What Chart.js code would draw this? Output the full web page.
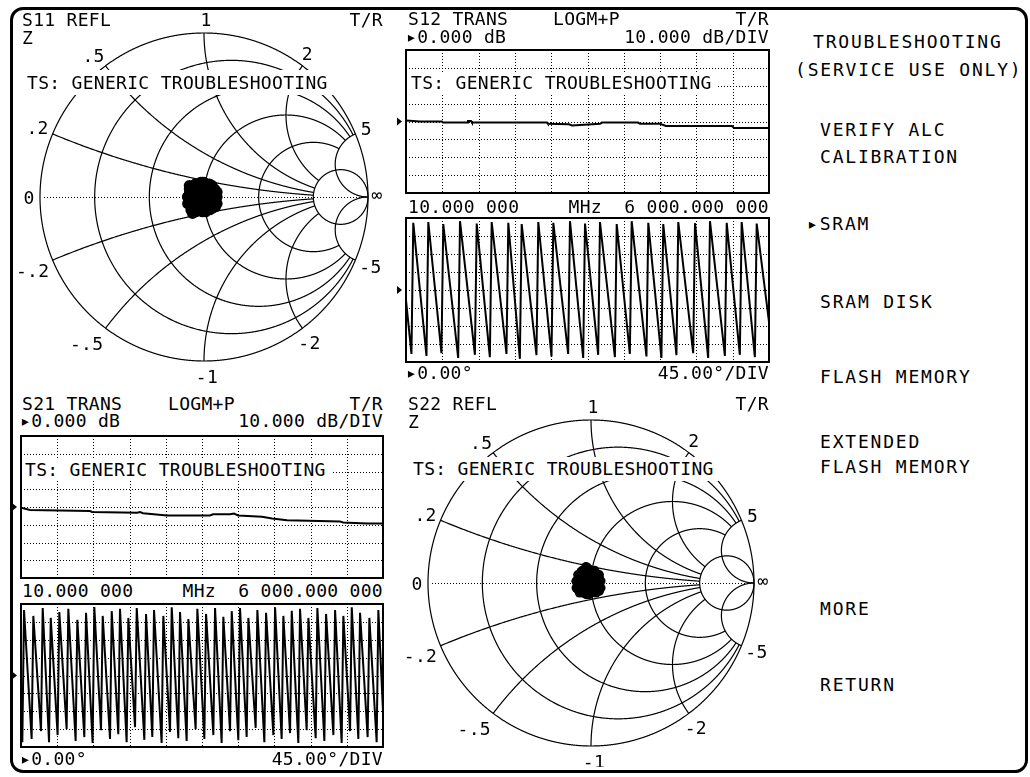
<!DOCTYPE html>
<html><head><meta charset="utf-8">
<script src="https://cdn.jsdelivr.net/npm/chart.js@4.4.1/dist/chart.umd.min.js"></script>
<style>
html,body{margin:0;padding:0;background:#fff;}
#screen{position:relative;width:1030px;height:777px;overflow:hidden;background:#fff;}
#frame{position:absolute;left:10px;top:7px;width:1012px;height:760px;border:3px solid #000;border-radius:13px;}
canvas{position:absolute;}
.t{position:absolute;font-family:"DejaVu Sans Mono",monospace;font-size:18px;line-height:18px;height:18px;letter-spacing:0.3px;color:#000;white-space:pre;}
.m{letter-spacing:1.8px;}
.band{position:absolute;background:#fff;}
</style></head><body><div id="screen">
<div id="frame"></div>
<canvas id="c11" width="382" height="385" style="left:14px;top:8px"></canvas>
<canvas id="c22" width="375" height="372" style="left:400px;top:395px"></canvas>
<canvas id="c12m" width="376" height="147" style="left:395px;top:48px"></canvas>
<canvas id="c12p" width="376" height="148" style="left:395px;top:216px"></canvas>
<canvas id="c21m" width="375" height="146" style="left:10px;top:434px"></canvas>
<canvas id="c21p" width="375" height="147" style="left:10px;top:602px"></canvas>

<!-- S11 -->
<div class="band" style="left:22px;top:70px;width:338px;height:25px"></div>
<div class="t" style="left:22px;top:11px">S11 REFL</div>
<div class="t" style="right:647px;top:11px">T/R</div>
<div class="t" style="left:22px;top:29px">Z</div>
<div class="t" style="left:27px;top:74px">TS: GENERIC TROUBLESHOOTING</div>

<!-- S12 -->
<div class="t" style="left:408px;top:10px">S12 TRANS</div>
<div class="t" style="left:553px;top:10px">LOGM+P</div>
<div class="t" style="right:261px;top:10px">T/R</div>
<div class="t" style="left:406px;top:28px">▸0.000 dB</div>
<div class="t" style="right:261px;top:28px">10.000 dB/DIV</div>
<div class="band" style="left:409px;top:73px;width:309px;height:21px"></div>
<div class="t" style="left:411px;top:74px">TS: GENERIC TROUBLESHOOTING</div>
<div class="t" style="left:408px;top:198px">10.000 000</div>
<div class="t" style="right:261px;top:198px">MHz  6 000.000 000</div>
<div class="t" style="left:406px;top:364px">▸0.00°</div>
<div class="t" style="right:261px;top:364px">45.00°/DIV</div>

<!-- S21 -->
<div class="t" style="left:22px;top:395px">S21 TRANS</div>
<div class="t" style="left:168px;top:395px">LOGM+P</div>
<div class="t" style="right:647px;top:395px">T/R</div>
<div class="t" style="left:20px;top:412px">▸0.000 dB</div>
<div class="t" style="right:647px;top:412px">10.000 dB/DIV</div>
<div class="band" style="left:23px;top:459px;width:308px;height:22px"></div>
<div class="t" style="left:25px;top:461px">TS: GENERIC TROUBLESHOOTING</div>
<div class="t" style="left:22px;top:582px">10.000 000</div>
<div class="t" style="right:647px;top:582px">MHz  6 000.000 000</div>
<div class="t" style="left:20px;top:750px">▸0.00°</div>
<div class="t" style="right:647px;top:750px">45.00°/DIV</div>

<!-- S22 -->
<div class="t" style="left:408px;top:395px">S22 REFL</div>
<div class="t" style="right:261px;top:395px">T/R</div>
<div class="t" style="left:408px;top:413px">Z</div>
<div class="band" style="left:408px;top:457px;width:340px;height:24px"></div>
<div class="t" style="left:413px;top:460px">TS: GENERIC TROUBLESHOOTING</div>

<!-- softkey menu -->
<div class="t m" style="left:813px;top:33px">TROUBLESHOOTING</div>
<div class="t m" style="left:795px;top:61px">(SERVICE USE ONLY)</div>
<div class="t m" style="left:820px;top:121px">VERIFY ALC</div>
<div class="t m" style="left:820px;top:148px">CALIBRATION</div>
<div class="t m" style="left:807px;top:215px">▸SRAM</div>
<div class="t m" style="left:820px;top:293px">SRAM DISK</div>
<div class="t m" style="left:820px;top:368px">FLASH MEMORY</div>
<div class="t m" style="left:820px;top:433px">EXTENDED</div>
<div class="t m" style="left:820px;top:458px">FLASH MEMORY</div>
<div class="t m" style="left:820px;top:600px">MORE</div>
<div class="t m" style="left:820px;top:676px">RETURN</div>
</div>
<script>
// ================= DATA =================
const startMHz = 10, stopMHz = 6000;
const magRangeDb = [-40, 40];
const phaseRangeDeg = [-180, 180];

// S11 trace (reflection coefficient, real / imaginary)
const s11Re = [-0.01, 0.04, 0.07, 0.08, 0.05, 0.01, -0.04, -0.08, -0.10, -0.09, -0.05, 0.00, 0.05, 0.08, 0.03, -0.02, -0.06, -0.03, 0.02, 0.06, 0.07, 0.02, -0.03, -0.07, -0.09, -0.06, -0.01, 0.04, 0.00, -0.04, 0.03, 0.06, -0.08, -0.10, -0.05, 0.01, 0.05, -0.02, -0.09, -0.07,
  0.08, 0.068, 0.035, -0.01, -0.055, -0.088, -0.10, -0.088, -0.055, -0.01, 0.035, 0.068, 0.04, 0.015, -0.035, -0.06, -0.035, 0.015];
const s11Im = [0.00, 0.04, 0.00, -0.04, -0.07, -0.09, -0.08, -0.05, 0.00, 0.05, 0.08, 0.09, 0.07, 0.03, -0.02, -0.03, 0.02, 0.05, 0.03, -0.05, -0.06, -0.06, 0.06, 0.06, 0.02, -0.03, -0.05, 0.01, 0.04, -0.01, 0.08, 0.05, -0.08, -0.04, -0.09, 0.02, -0.01, 0.09, 0.07, -0.10,
  0.00, 0.045, 0.078, 0.09, 0.078, 0.045, 0.00, -0.045, -0.078, -0.09, -0.078, -0.045, 0.00, 0.043, 0.043, 0.00, -0.043, -0.043];

// S22 trace
const s22Re = [-0.02, 0.02, 0.05, 0.06, 0.03, -0.01, -0.05, -0.08, -0.09, -0.07, -0.04, -0.01, 0.03, 0.05, 0.01, -0.03, -0.06, -0.04, 0.00, 0.04, 0.05, 0.00, -0.04, -0.07, -0.08, -0.05, -0.02, 0.02, -0.01, -0.05, 0.01, 0.04, -0.07, -0.09, -0.03, -0.03, 0.02, -0.03, -0.06, -0.02,
  0.06, 0.05, 0.022, -0.015, -0.052, -0.08, -0.09, -0.08, -0.052, -0.015, 0.022, 0.05, 0.025, 0.005, -0.035, -0.055, -0.035, 0.005];
const s22Im = [0.01, 0.04, 0.01, -0.03, -0.06, -0.07, -0.06, -0.04, 0.01, 0.05, 0.07, 0.08, 0.06, 0.03, -0.01, -0.02, 0.03, 0.05, 0.03, -0.04, -0.05, -0.05, 0.06, 0.05, 0.02, -0.02, -0.04, 0.01, 0.04, 0.00, 0.07, 0.05, -0.06, -0.03, -0.07, 0.10, -0.01, 0.09, 0.07, -0.07,
  0.012, 0.05, 0.077, 0.087, 0.077, 0.05, 0.012, -0.026, -0.053, -0.063, -0.053, -0.026, 0.012, 0.047, 0.047, 0.012, -0.023, -0.023];

// Smith chart grid values
const smithInnerResistances = [0.2, 0.5, 1, 2];
const smithFullResistances = [0, 5];
const smithInnerReactances = [0.2, 0.5, 1, 2];
const smithFullReactances = [5];
const smithLabelReactance = [1, 0.5, 2, 0.2, 5, 0, Infinity, -0.2, -5, -0.5, -2, -1];
const smithLabelText = ["1", ".5", "2", ".2", "5", "0", "∞", "-.2", "-5", "-.5", "-2", "-1"];

// S12 log magnitude
const s12MagMHz = [10, 241, 604, 621, 1017, 1033, 1083, 1099, 2337, 2353, 2700, 2749, 2881, 3211, 3244, 3838, 3871, 4201, 4300, 5389, 5422, 6000];
const s12MagDb = [0.5, 0.0, 0.0, -0.6, -0.6, 0.3, 0.3, -0.6, -0.6, -1.3, -1.6, -2.2, -1.9, -1.3, -0.6, -0.6, -1.3, -1.3, -2.5, -2.5, -3.6, -3.6];

// S12 phase (vertices of the wrapped trace)
const s12PhaseMHz = [10, 100, 130, 348, 378, 595, 625, 871, 901, 1147, 1177, 1394, 1424, 1668, 1698, 1889, 1919, 2163, 2193, 2411, 2441, 2686, 2716, 2934, 2964, 3181, 3211, 3457, 3487, 3704, 3734, 3978, 4008, 4225, 4255, 4473, 4503, 4749, 4779, 4996, 5026, 5272, 5302, 5519, 5549, 5767, 5797, 6000];
const s12PhaseDeg = [-25, -160, 168, -165, 170, -158, 165, -170, 172, -162, 166, -168, 170, -160, 168, -172, 165, -163, 170, -166, 168, -160, 172, -170, 166, -162, 170, -168, 165, -160, 172, -166, 168, -170, 165, -163, 170, -158, 167, -170, 172, -165, 168, -162, 170, -168, 166, -80];

// S21 log magnitude
const s21MagMHz = [10, 159, 1152, 1185, 1930, 1980, 2029, 2426, 3138, 3188, 3469, 3535, 3602, 3999, 4164, 4412, 5289, 5339, 5736, 6000];
const s21MagDb = [-0.4, -1.7, -2.3, -2.8, -3.2, -2.8, -3.5, -4.8, -4.8, -4.1, -4.1, -3.7, -4.8, -5.5, -6.5, -7.4, -8.1, -8.7, -9.3, -9.3];

// S21 phase (vertices of the wrapped trace)
const s21PhaseMHz = [10, 32, 60, 186, 214, 341, 369, 474, 502, 616, 644, 765, 793, 914, 942, 1058, 1086, 1195, 1223, 1334, 1362, 1483, 1511, 1620, 1648, 1758, 1786, 1897, 1925, 2051, 2079, 2183, 2211, 2337, 2365, 2476, 2504, 2613, 2641, 2751, 2779, 2900, 2928, 3044, 3072, 3193, 3221, 3330, 3358, 3469, 3497, 3606, 3634, 3744, 3772, 3893, 3921, 4037, 4065, 4186, 4214, 4323, 4351, 4462, 4490, 4599, 4627, 4737, 4765, 4886, 4914, 5030, 5058, 5179, 5207, 5316, 5344, 5455, 5483, 5592, 5620, 5746, 5774, 5895, 5923, 6000];
const s21PhaseDeg = [-100, -168, 165, -160, 150, -140, 170, -168, 145, -150, 160, -135, 168, -165, 140, -155, 158, -170, 172, -138, 150, -160, 162, -148, 168, -168, 145, -130, 170, -162, 155, -155, 165, -170, 150, -142, 172, -158, 160, -165, 142, -135, 168, -160, 155, -150, 170, -170, 148, -140, 162, -163, 170, -155, 145, -132, 165, -168, 158, -150, 172, -160, 150, -145, 163, -170, 168, -138, 145, -158, 170, -165, 155, -150, 165, -170, 150, -140, 172, -160, 158, -155, 145, -168, 165, -90];

// ================= LAYOUT (not data) =================
const FONT = '18px "DejaVu Sans Mono", monospace';
const labelOffsets = [[2,-14],[-12,-10],[5,-12],[-15,-6],[11,-5],[-11,0],[9,-3],[-20,10],[15,6],[-19,15],[7,14],[3,15]];

// ================= HELPERS =================
function gammaOf(r, x){
  const den = (r+1)*(r+1) + x*x;
  return [((r-1)*(r+1) + x*x)/den, 2*x/den];
}
const zip = (xs, ys) => xs.map((v,i)=>({x:v, y:ys[i]}));

const smithPlugin = {
  id:'smith',
  beforeDatasetsDraw(chart){
    const {ctx, scales:{x:xs, y:ys}} = chart;
    const P = g => [xs.getPixelForValue(g[0]), ys.getPixelForValue(g[1])];
    function path(fn, n){
      ctx.beginPath();
      for(let i=0;i<=n;i++){ const [px,py]=P(fn(i/n)); if(i===0) ctx.moveTo(px,py); else ctx.lineTo(px,py); }
      ctx.stroke();
    }
    const xLim = smithFullReactances[0], rLim = smithFullResistances[1];
    ctx.save();
    ctx.strokeStyle='#000'; ctx.lineWidth=1.2;
    smithFullResistances.forEach(r => path(t => gammaOf(r, Math.tan((t-0.5)*Math.PI*0.99995)), 2400));
    smithInnerResistances.forEach(r => path(t => gammaOf(r, -xLim + 2*xLim*t), 1500));
    smithInnerReactances.forEach(xv => [xv,-xv].forEach(x => path(t => gammaOf(rLim*t, x), 700)));
    smithFullReactances.forEach(xv => [xv,-xv].forEach(x => path(t => { const u=t*0.9995; return gammaOf(u/(1-u), x); }, 1200)));
    ctx.setLineDash([1,2]); ctx.lineWidth=1;
    const a=P([-1,0]), b=P([1,0]); const yy=Math.round(a[1])+0.5;
    ctx.beginPath(); ctx.moveTo(Math.round(a[0])+4, yy); ctx.lineTo(b[0], yy); ctx.stroke();
    ctx.restore();
  },
  afterDatasetsDraw(chart){
    const {ctx, scales:{x:xs, y:ys}} = chart;
    ctx.save();
    ctx.font = FONT; ctx.letterSpacing='0.3px'; ctx.fillStyle='#000'; ctx.textAlign='center'; ctx.textBaseline='alphabetic';
    smithLabelReactance.forEach((xv,i)=>{
      const g = xv===Infinity ? [1,0] : gammaOf(0, xv);
      const px = xs.getPixelForValue(g[0]) + labelOffsets[i][0];
      const py = ys.getPixelForValue(g[1]) + labelOffsets[i][1];
      ctx.fillText(smithLabelText[i], px, py + 6.5);
    });
    ctx.restore();
  }
};

const boxPlugin = {
  id:'box',
  beforeDatasetsDraw(chart, args, opts){
    const {ctx, chartArea:a, scales:{x, y}} = chart;
    ctx.save();
    ctx.strokeStyle='#000'; ctx.lineWidth=1; ctx.setLineDash([1,2]);
    for(let k=1;k<opts.xDivs;k++){
      const px = Math.round(x.getPixelForValue(x.min + k*(x.max-x.min)/opts.xDivs)) + 0.5;
      ctx.beginPath(); ctx.moveTo(px, a.top); ctx.lineTo(px, a.bottom); ctx.stroke();
    }
    for(let k=1;k<opts.yDivs;k++){
      const py = Math.round(y.getPixelForValue(y.min + k*(y.max-y.min)/opts.yDivs)) + 0.5;
      ctx.beginPath(); ctx.moveTo(a.left, py); ctx.lineTo(a.right, py); ctx.stroke();
    }
    ctx.restore();
  },
  afterDatasetsDraw(chart, args, opts){
    const {ctx, chartArea:a, scales:{y}} = chart;
    ctx.save();
    ctx.strokeStyle='#000'; ctx.lineWidth=2;
    ctx.strokeRect(a.left, a.top, a.right-a.left, a.bottom-a.top);
    const py = y.getPixelForValue(opts.ref);
    ctx.fillStyle='#000';
    ctx.beginPath(); ctx.moveTo(a.left-9, py-4); ctx.lineTo(a.left-4, py); ctx.lineTo(a.left-9, py+4); ctx.closePath(); ctx.fill();
    ctx.restore();
  }
};

const common = { responsive:false, animation:false, devicePixelRatio:1, events:[],
  plugins:{legend:{display:false}, tooltip:{enabled:false}} };

function smith(id, re, im, pad, pr){
  new Chart(document.getElementById(id), {
    type:'scatter',
    data:{datasets:[{data:zip(re, im), showLine:true, borderColor:'#000', borderWidth:1.5,
      pointRadius:pr, pointBackgroundColor:'#000', pointBorderWidth:0, clip:false}]},
    options:Object.assign({}, common, {
      layout:{padding:pad},
      scales:{x:{type:'linear', min:-1, max:1, display:false}, y:{type:'linear', min:-1, max:1, display:false}}
    }),
    plugins:[smithPlugin]
  });
}
function rect(id, fx, vy, range, yDivs, lw, pad){
  new Chart(document.getElementById(id), {
    type:'line',
    data:{datasets:[{data:zip(fx, vy), borderColor:'#000', borderWidth:lw, pointRadius:0, tension:0}]},
    options:Object.assign({}, common, {
      layout:{padding:pad},
      scales:{x:{type:'linear', min:startMHz, max:stopMHz, display:false},
              y:{type:'linear', min:range[0], max:range[1], display:false}},
      plugins:Object.assign({}, common.plugins, {box:{xDivs:10, yDivs:yDivs, ref:0}})
    }),
    plugins:[boxPlugin]
  });
}

smith('c11', s11Re, s11Im, {left:26, right:28, top:25, bottom:32}, 5.5);
smith('c22', s22Re, s22Im, {left:28, right:21, top:25, bottom:21}, 4.8);
rect('c12m', s12MagMHz, s12MagDb, magRangeDb, 8, 2, {left:11, right:2, top:2, bottom:2});
rect('c12p', s12PhaseMHz, s12PhaseDeg, phaseRangeDeg, 8, 2, {left:11, right:2, top:2, bottom:2});
rect('c21m', s21MagMHz, s21MagDb, magRangeDb, 8, 2, {left:11, right:2, top:2, bottom:2});
rect('c21p', s21PhaseMHz, s21PhaseDeg, phaseRangeDeg, 8, 2, {left:11, right:2, top:2, bottom:2});
</script>
</body></html>
